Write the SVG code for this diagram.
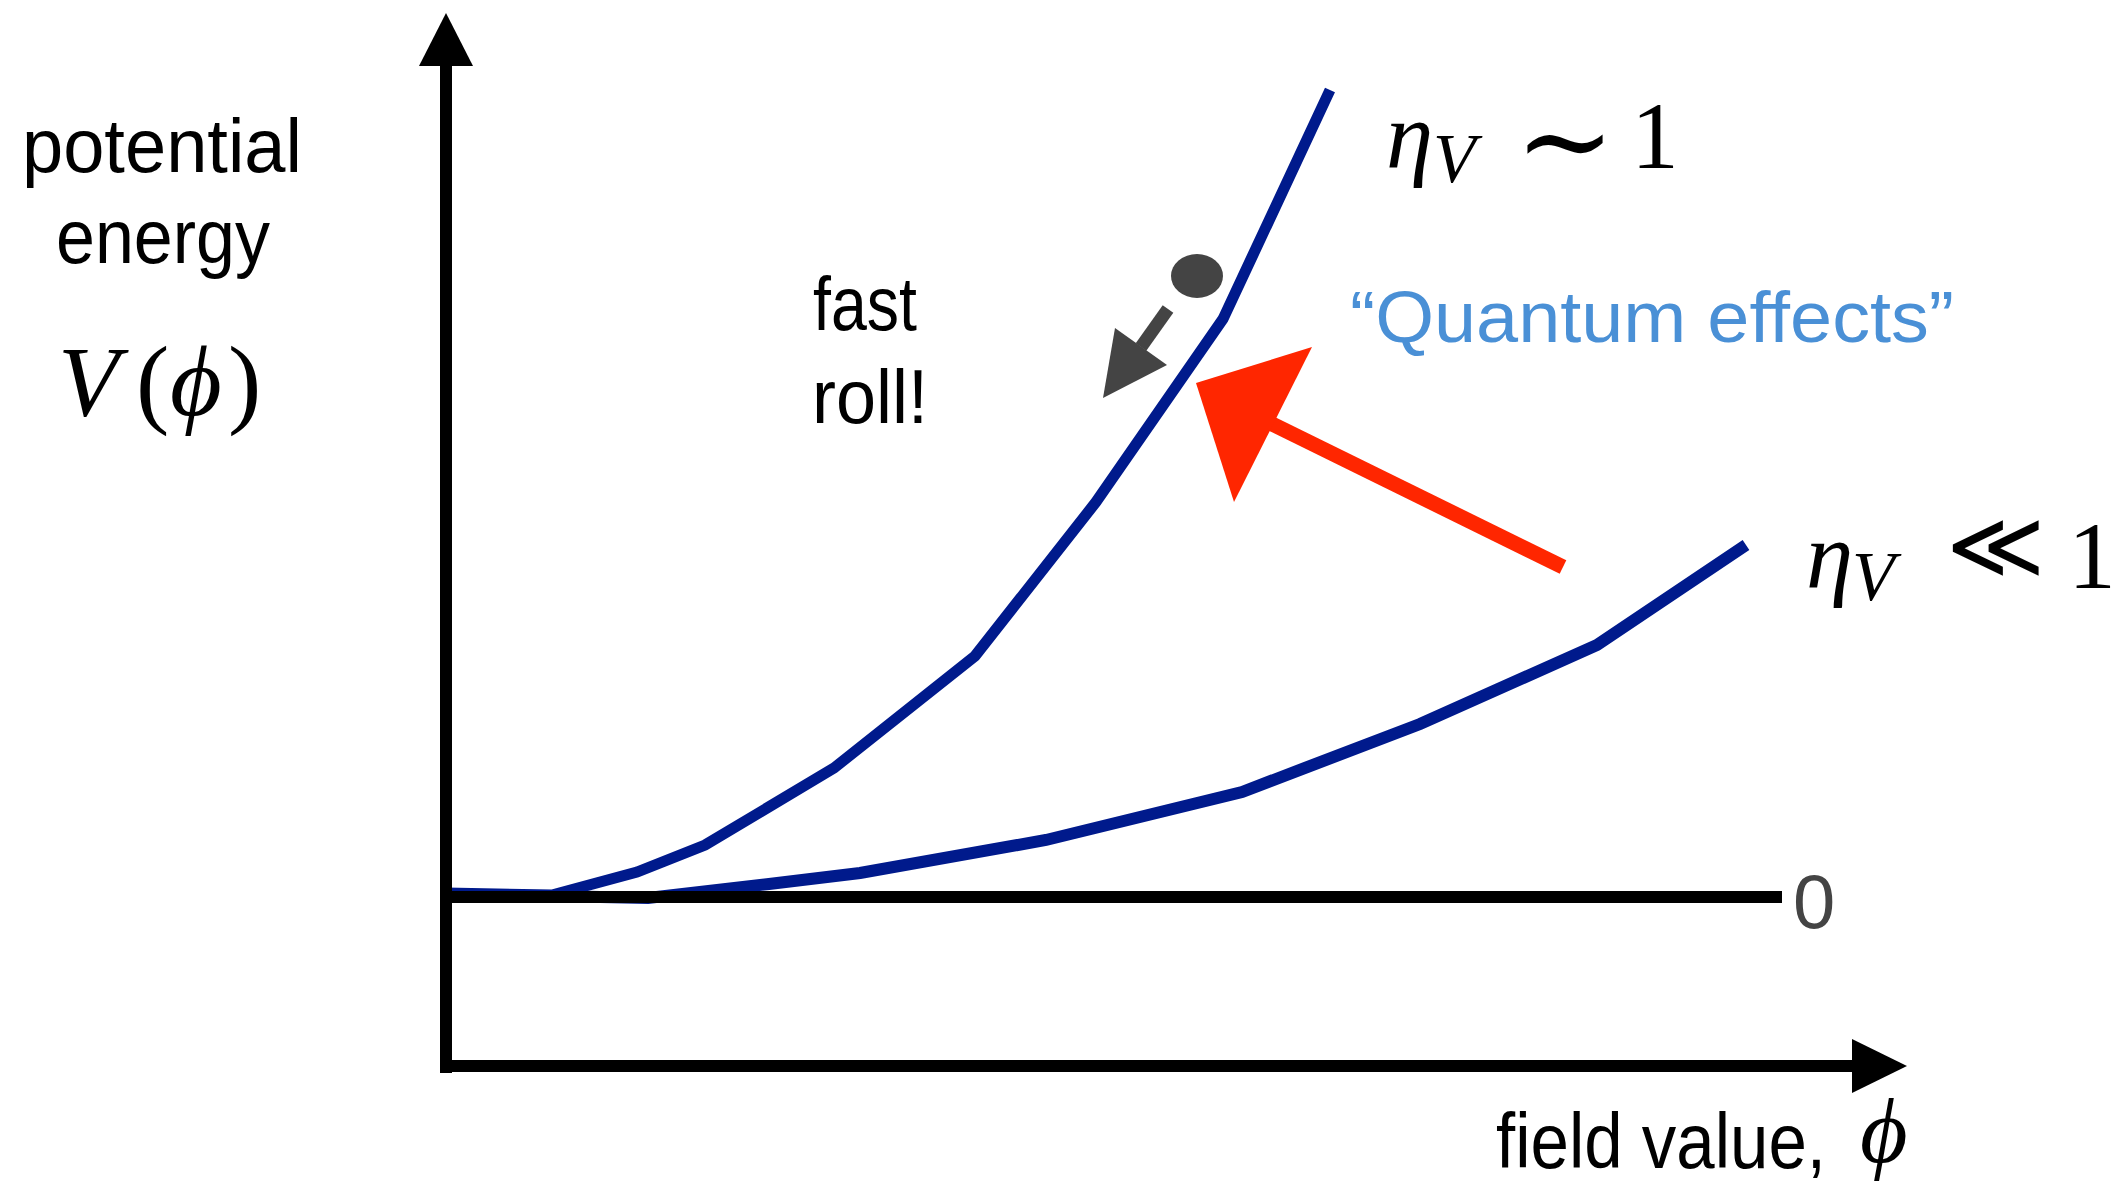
<svg xmlns="http://www.w3.org/2000/svg" width="2117" height="1184" viewBox="0 0 2117 1184">
<style>
.sans{font-family:"Liberation Sans",Arial,sans-serif;font-size:76px;fill:#000}
.math{font-family:"Liberation Serif","DejaVu Serif",serif;fill:#000}
.op{font-family:"DejaVu Serif","Liberation Serif",serif;fill:#000}
.it{font-style:italic}
.curve{fill:none;stroke:#001a8c;stroke-linejoin:miter;stroke-linecap:butt}
.axis{stroke:#000;stroke-width:12;fill:none}
</style>
<rect width="2117" height="1184" fill="#fff"/>
<g id="curves">
<polyline class="curve" stroke-width="11" points="446,893 552,895 637,872 705,845 834,768 975,656 1096,502 1223,319 1330,90"/>
<polyline class="curve" stroke-width="12" points="552,896 648,898 769,884 860,873 1046,840 1242,792 1420,724 1597,645 1746,545"/>
</g>
<g id="axes">
<line class="axis" x1="440" y1="897" x2="1782" y2="897"/>
<line class="axis" x1="446" y1="1073" x2="446" y2="62"/>
<polygon points="446,13 419,66 473,66" fill="#000"/>
<line class="axis" x1="440" y1="1066" x2="1856" y2="1066"/>
<polygon points="1907,1066 1852,1039 1852,1093" fill="#000"/>
</g>
<g id="ylabel">
<text class="sans" x="22" y="172" textLength="280" lengthAdjust="spacingAndGlyphs">potential</text>
<text class="sans" x="56" y="263" textLength="214" lengthAdjust="spacingAndGlyphs">energy</text>
<text class="math it" x="58" y="415" font-size="100">V</text>
<text class="math" x="136" y="415" font-size="100">(</text>
<text class="math it" x="170" y="415" font-size="100">ϕ</text>
<text class="math" x="228" y="415" font-size="100">)</text>
</g>
<g id="zero-label">
<text class="sans" x="1793" y="928" style="fill:#444">0</text>
</g>
<g id="xlabel">
<text class="sans" x="1496" y="1168" style="font-size:78px" textLength="330" lengthAdjust="spacingAndGlyphs">field value,</text>
<text class="math it" x="1860" y="1162" font-size="92">ϕ</text>
</g>
<g id="eta-steep">
<text class="math it" x="1386" y="168" font-size="95">η</text>
<text class="math it" x="1433" y="182" font-size="70">V</text>
<text class="op" x="1565" y="182" font-size="120" text-anchor="middle">∼</text>
<text class="math" x="1655" y="168" font-size="95" text-anchor="middle">1</text>
</g>
<g id="eta-shallow">
<text class="math it" x="1806" y="588" font-size="95">η</text>
<text class="math it" x="1852" y="600" font-size="70">V</text>
<text class="math" x="1995" y="578" font-size="95" text-anchor="middle">≪</text>
<text class="math" x="2092" y="588" font-size="95" text-anchor="middle">1</text>
</g>
<g id="fast-roll">
<text class="sans" x="813" y="330" textLength="104" lengthAdjust="spacingAndGlyphs">fast</text>
<text class="sans" x="812" y="423" textLength="116" lengthAdjust="spacingAndGlyphs">roll!</text>
</g>
<g id="ball">
<ellipse cx="1197" cy="276" rx="26" ry="22" fill="#444"/>
<line x1="1168" y1="309" x2="1141" y2="347" stroke="#444" stroke-width="13"/>
<polygon points="1103,398 1115,328 1167,365" fill="#444"/>
</g>
<g id="quantum">
<text class="sans" x="1350" y="342" style="font-size:72px;fill:#4a90d6" textLength="604" lengthAdjust="spacingAndGlyphs">“Quantum effects”</text>
<line x1="1563" y1="567" x2="1270" y2="423" stroke="#ff2600" stroke-width="15"/>
<polygon points="1196,383 1312,347 1234,502" fill="#ff2600"/>
</g>
</svg>
